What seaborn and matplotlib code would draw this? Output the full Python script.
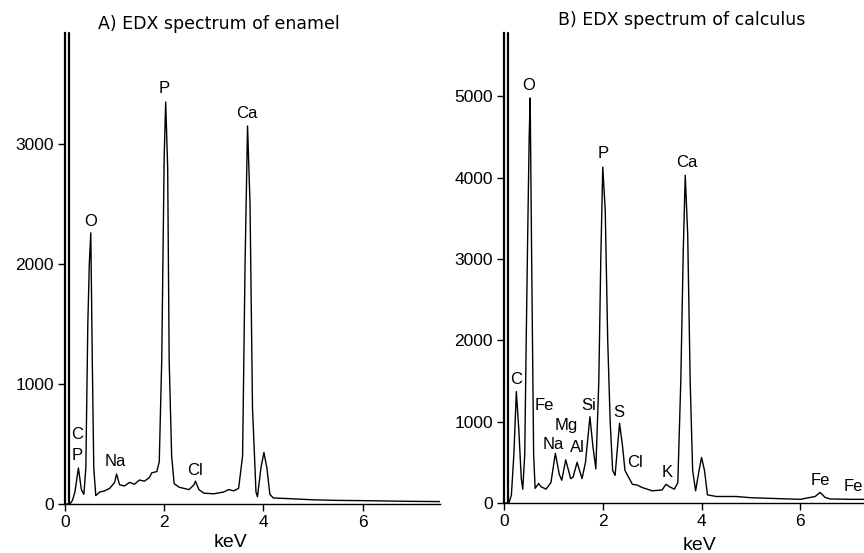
import matplotlib
matplotlib.use("Agg")
import matplotlib.pyplot as plt
import seaborn as sns
import pandas as pd

# ---- Panel A: enamel spectrum (keV, counts) ----
enamel_kev = [0.0, 0.1, 0.15, 0.2, 0.27, 0.33, 0.38, 0.42, 0.46, 0.49, 0.52, 0.55, 0.58, 0.62,
              0.7, 0.8, 0.9, 1.0, 1.04, 1.1, 1.2, 1.3, 1.4, 1.5, 1.6, 1.7, 1.75, 1.85, 1.9,
              1.95, 2.0, 2.03, 2.07, 2.1, 2.15, 2.2, 2.3, 2.4, 2.5, 2.6, 2.63, 2.7, 2.8, 3.0,
              3.2, 3.3, 3.4, 3.5, 3.58, 3.63, 3.68, 3.73, 3.78, 3.85, 3.88, 3.95, 4.01, 4.07,
              4.13, 4.2, 4.5, 5.0, 5.5, 6.0, 6.5, 7.0, 7.6]
enamel_counts = [0, 0, 30, 100, 300, 120, 80, 300, 1500, 2000, 2260, 1200, 300, 70,
                 100, 110, 130, 180, 250, 160, 150, 180, 165, 200, 190, 220, 260, 270, 350,
                 1200, 2900, 3350, 2800, 1200, 400, 170, 140, 130, 120, 160, 190, 120, 90, 85,
                 100, 120, 110, 130, 400, 2000, 3150, 2500, 800, 100, 60, 300, 430, 300,
                 80, 50, 45, 35, 30, 28, 25, 22, 20]
enamel_labels = ["O", "P", "Ca", "C", "P", "Na", "Cl"]
enamel_label_kev = [0.51, 1.99, 3.67, 0.24, 0.24, 1.01, 2.62]
enamel_label_cts = [2358, 3466, 3258, 583, 400, 350, 283]

# ---- Panel B: calculus spectrum (keV, counts) ----
calc_kev = [0.0, 0.1, 0.15, 0.2, 0.25, 0.3, 0.35, 0.38, 0.42, 0.45, 0.48, 0.51, 0.53, 0.56,
            0.6, 0.63, 0.7, 0.75, 0.85, 0.95, 1.04, 1.12, 1.17, 1.25, 1.35, 1.4, 1.48, 1.58,
            1.65, 1.74, 1.8, 1.86, 1.92, 1.96, 2.0, 2.05, 2.1, 2.15, 2.2, 2.25, 2.3, 2.34,
            2.4, 2.45, 2.52, 2.6, 2.7, 2.8, 3.0, 3.2, 3.28, 3.35, 3.45, 3.52, 3.58, 3.63,
            3.67, 3.72, 3.77, 3.82, 3.88, 3.95, 4.0, 4.06, 4.12, 4.3, 4.7, 5.0, 5.5, 6.0,
            6.3, 6.4, 6.5, 6.6, 7.0, 7.3]
calc_counts = [0, 0, 100, 600, 1370, 900, 300, 170, 600, 2000, 3300, 4500, 4980, 3000,
               600, 180, 240, 200, 170, 250, 610, 350, 280, 530, 300, 320, 500, 300,
               500, 1060, 700, 420, 1500, 3000, 4130, 3600, 2000, 1000, 400, 340, 700, 980,
               700, 400, 320, 230, 220, 190, 150, 160, 230, 200, 170, 250, 1500, 3100,
               4030, 3300, 1500, 400, 150, 400, 560, 400, 100, 80, 80, 65, 55, 45,
               80, 130, 70, 50, 45, 45]
calc_labels = ["O", "P", "Ca", "C", "Fe", "Mg", "Na", "Al", "Si", "S", "Cl", "K", "Fe", "Fe"]
calc_label_kev = [0.49, 2.0, 3.70, 0.24, 0.81, 1.26, 0.99, 1.48, 1.72, 2.33, 2.65, 3.30, 6.40, 7.07]
calc_label_cts = [5130, 4293, 4182, 1516, 1193, 947, 714, 677, 1193, 1107, 492, 381, 271, 197]

titles = ["A) EDX spectrum of enamel", "B) EDX spectrum of calculus"]
xticks = [0, 2, 4, 6]
yticks_a = [0, 1000, 2000, 3000]
yticks_b = [0, 1000, 2000, 3000, 4000, 5000]

sns.set_style("ticks")
plt.rcParams["font.family"] = ["Liberation Sans", "DejaVu Sans"]
plt.rcParams["text.color"] = "black"
plt.rcParams["xtick.color"] = "black"
plt.rcParams["ytick.color"] = "black"
plt.rcParams["axes.labelcolor"] = "black"

fig = plt.figure(figsize=(8.64, 5.53), dpi=100)
axA = fig.add_axes([65 / 864, 1 - 504 / 553, 375 / 864, 471 / 553])
axB = fig.add_axes([504 / 864, 1 - 503 / 553, 360 / 864, 470 / 553])

panels = [
    (axA, enamel_kev, enamel_counts, enamel_labels, enamel_label_kev, enamel_label_cts,
     (0, 7.56), (0, 3925), yticks_a, (0.44, -0.064)),
    (axB, calc_kev, calc_counts, calc_labels, calc_label_kev, calc_label_cts,
     (0, 7.29), (0, 5780), yticks_b, (0.544, -0.072)),
]

for ax, kev, cts, labs, lk, lc, xl, yl, yt, lblpos in panels:
    df = pd.DataFrame({"keV": kev, "counts": cts})
    sns.lineplot(data=df, x="keV", y="counts", ax=ax, color="black", linewidth=1.0,
                 estimator=None, sort=False)
    ax.set_xlim(*xl)
    ax.set_ylim(*yl)
    ax.set_xticks(xticks)
    ax.set_yticks(yt)
    ax.set_ylabel("")
    ax.set_xlabel("keV", fontsize=14)
    ax.xaxis.set_label_coords(*lblpos)
    for s in ["top", "right"]:
        ax.spines[s].set_visible(False)
    ax.spines["left"].set_linewidth(1.6)
    ax.spines["left"].set_color("black")
    ax.spines["bottom"].set_linewidth(1.0)
    ax.spines["bottom"].set_color("black")
    # double-line look of the left axis
    ax.plot([0.011, 0.011], [0, 1], transform=ax.transAxes, color="black", lw=1.6,
            clip_on=False)
    ax.tick_params(axis="both", labelsize=12.5, length=5, width=1.0, direction="out", pad=3)
    for t, x, y in zip(labs, lk, lc):
        ax.text(x, y, t, ha="center", va="center", fontsize=12)

fig.text(219 / 864, 1 - 24 / 553, titles[0], ha="center", va="center", fontsize=12.5,
         family=["DejaVu Sans"])
fig.text(682 / 864, 1 - 20 / 553, titles[1], ha="center", va="center", fontsize=12.5,
         family=["DejaVu Sans"])

fig.savefig("out.png", dpi=100)
